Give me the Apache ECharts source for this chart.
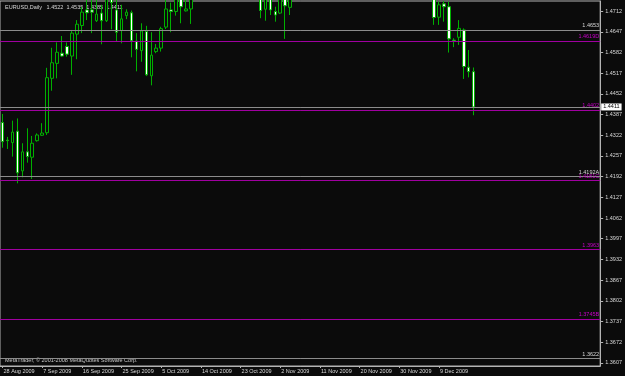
<!DOCTYPE html>
<html><head><meta charset="utf-8">
<script src="https://cdn.jsdelivr.net/npm/echarts@6/dist/echarts.min.js"></script>
<style>html,body{margin:0;padding:0;background:#0b0b0b}#c{width:625px;height:376px}</style>
</head><body><div id="c"></div>
<script>
const symbolName = 'EURUSD,Daily';
const dates = ['28 Aug 2009','30 Aug 2009','31 Aug 2009','1 Sep 2009','2 Sep 2009','3 Sep 2009','4 Sep 2009','6 Sep 2009',
'7 Sep 2009','8 Sep 2009','9 Sep 2009','10 Sep 2009','11 Sep 2009','13 Sep 2009','14 Sep 2009','15 Sep 2009',
'16 Sep 2009','17 Sep 2009','18 Sep 2009','20 Sep 2009','21 Sep 2009','22 Sep 2009','23 Sep 2009','24 Sep 2009',
'25 Sep 2009','27 Sep 2009','28 Sep 2009','29 Sep 2009','30 Sep 2009','1 Oct 2009','2 Oct 2009','4 Oct 2009',
'5 Oct 2009','6 Oct 2009','7 Oct 2009','8 Oct 2009','9 Oct 2009','11 Oct 2009','12 Oct 2009','13 Oct 2009',
'14 Oct 2009','15 Oct 2009','16 Oct 2009','18 Oct 2009','19 Oct 2009','20 Oct 2009','21 Oct 2009','22 Oct 2009',
'23 Oct 2009','25 Oct 2009','26 Oct 2009','27 Oct 2009','28 Oct 2009','29 Oct 2009','30 Oct 2009','1 Nov 2009',
'2 Nov 2009','3 Nov 2009','4 Nov 2009','5 Nov 2009','6 Nov 2009','8 Nov 2009','9 Nov 2009','10 Nov 2009',
'11 Nov 2009','12 Nov 2009','13 Nov 2009','15 Nov 2009','16 Nov 2009','17 Nov 2009','18 Nov 2009','19 Nov 2009',
'20 Nov 2009','22 Nov 2009','23 Nov 2009','24 Nov 2009','25 Nov 2009','26 Nov 2009','27 Nov 2009','29 Nov 2009',
'30 Nov 2009','1 Dec 2009','2 Dec 2009','3 Dec 2009','4 Dec 2009','6 Dec 2009','7 Dec 2009','8 Dec 2009',
'9 Dec 2009','10 Dec 2009','11 Dec 2009','13 Dec 2009','14 Dec 2009','15 Dec 2009','16 Dec 2009','17 Dec 2009'];

const opens = [1.4362,1.4307,1.4299,1.4335,1.4210,1.4270,1.4253,1.4305,1.4322,1.4330,1.4501,1.4548,1.4580,1.4601,1.4571,1.4640,
1.4667,1.4716,1.4716,1.4682,1.4706,1.4682,1.4760,1.4716,1.4651,1.4698,1.4707,1.4618,1.4588,1.4648,1.4509,1.4585,
1.4596,1.4662,1.4716,1.4711,1.4758,1.4713,1.4719,1.4780,1.4830,1.4910,1.4905,1.4870,1.4875,1.4935,1.4945,1.5010,
1.5020,1.5010,1.5005,1.4905,1.4790,1.4718,1.4765,1.4711,1.4706,1.4770,1.4724,1.4775,1.4860,1.4870,1.4875,1.4990,
1.4970,1.4990,1.4850,1.4895,1.4900,1.4980,1.4880,1.4965,1.4900,1.4870,1.4880,1.4965,1.4975,1.5125,1.5020,1.4980,
1.4985,1.5005,1.5090,1.5080,1.5050,1.4860,1.4870,1.4805,1.4693,1.4735,1.4726,1.4621,1.4630,1.4653,1.4536,1.4522];

const highs = [1.4389,1.4317,1.4368,1.4375,1.4297,1.4344,1.4320,1.4328,1.4360,1.4534,1.4597,1.4614,1.4634,1.4614,1.4653,1.4684,
1.4726,1.4763,1.4757,1.4747,1.4732,1.4780,1.4780,1.4747,1.4732,1.4718,1.4714,1.4643,1.4674,1.4666,1.4646,1.4609,
1.4663,1.4754,1.4739,1.4768,1.4770,1.4760,1.4800,1.4850,1.4930,1.4935,1.4920,1.4880,1.4945,1.4960,1.5025,1.5030,
1.5060,1.5020,1.5025,1.4925,1.4810,1.4790,1.4790,1.4726,1.4795,1.4785,1.4800,1.4880,1.4900,1.4885,1.5010,1.5010,
1.5010,1.4995,1.4930,1.4905,1.5000,1.4990,1.4990,1.4975,1.4930,1.4890,1.5000,1.4990,1.5145,1.5145,1.5035,1.4990,
1.5040,1.5105,1.5110,1.5125,1.5095,1.4875,1.4880,1.4830,1.4742,1.4744,1.4742,1.4627,1.4684,1.4658,1.4590,1.4535];

const lows = [1.4283,1.4279,1.4255,1.4171,1.4190,1.4236,1.4185,1.4302,1.4320,1.4323,1.4462,1.4501,1.4569,1.4569,1.4512,1.4561,
1.4643,1.4684,1.4643,1.4678,1.4608,1.4678,1.4655,1.4616,1.4611,1.4687,1.4567,1.4523,1.4553,1.4508,1.4479,1.4580,
1.4585,1.4656,1.4646,1.4698,1.4674,1.4711,1.4672,1.4765,1.4810,1.4855,1.4820,1.4860,1.4840,1.4890,1.4925,1.4930,
1.4995,1.5000,1.4890,1.4775,1.4690,1.4682,1.4700,1.4679,1.4703,1.4625,1.4700,1.4760,1.4790,1.4860,1.4870,1.4930,
1.4950,1.4830,1.4830,1.4885,1.4880,1.4860,1.4870,1.4865,1.4810,1.4860,1.4875,1.4930,1.4965,1.4950,1.4830,1.4970,
1.4950,1.4995,1.5040,1.5030,1.4845,1.4850,1.4790,1.4669,1.4669,1.4679,1.4582,1.4599,1.4606,1.4499,1.4504,1.4385];

const closes = [1.4302,1.4305,1.4332,1.4204,1.4270,1.4255,1.4297,1.4323,1.4329,1.4503,1.4550,1.4583,1.4571,1.4577,1.4643,1.4671,
1.4709,1.4707,1.4709,1.4703,1.4682,1.4760,1.4739,1.4646,1.4688,1.4709,1.4619,1.4592,1.4650,1.4512,1.4574,1.4596,
1.4657,1.4719,1.4711,1.4758,1.4726,1.4719,1.4780,1.4830,1.4910,1.4905,1.4865,1.4875,1.4935,1.4945,1.5010,1.5020,
1.5010,1.5005,1.4905,1.4790,1.4714,1.4765,1.4716,1.4700,1.4770,1.4729,1.4775,1.4860,1.4860,1.4875,1.4990,1.4970,
1.4990,1.4850,1.4890,1.4900,1.4980,1.4880,1.4965,1.4900,1.4860,1.4880,1.4965,1.4975,1.5125,1.5020,1.4975,1.4985,
1.5005,1.5090,1.5080,1.5050,1.4860,1.4870,1.4805,1.4692,1.4732,1.4726,1.4625,1.4618,1.4658,1.4538,1.4522,1.4411];

const yTicks = [1.3607,1.3672,1.3737,1.3802,1.3867,1.3932,1.3997,1.4062,1.4127,1.4192,1.4257,1.4322,1.4387,1.4452,1.4517,1.4582,1.4647,1.4712];

const grayLevels = [1.4653, 1.4192, 1.3622];
const grayLabels = ['1.4653', '1.4192A', '1.3622'];
const magentaLevels = [1.4619, 1.4402, 1.4181, 1.3963, 1.3745];
const magentaLabels = ['1.4619D', '1.4402', '1.4181C', '1.3963', '1.3745B'];
const copyrightText = 'MetaTrader, \u00A9 2001-2008 MetaQuotes Software Corp.';

const emptySlots = 25;
const labelEvery = 8;

// ---- build library structures ----
const categories = dates.concat(new Array(emptySlots).fill(''));
const ohlc = dates.map((d, i) => [opens[i], closes[i], lows[i], highs[i]]);
const last = dates.length - 1;
const bid = closes[last];
const header = symbolName + '   ' + [opens[last], highs[last], lows[last], closes[last]].map(v => v.toFixed(4)).join('  ');

const FONT = 'Liberation Sans';
const FS = 5.5;
const GREEN = '#00b000';
const GRAY_LINE = '#8c8c8c';
const FRAME = '#b4b4b4';
const MAG_LINE = '#a000a0';
const MAG_TEXT = '#c800c8';
const TEXT = '#d8d8d8';

const markData = [];
grayLevels.forEach((v, i) => markData.push({
  yAxis: v,
  lineStyle: { color: GRAY_LINE, width: 1, type: 'solid' },
  label: { show: true, position: 'insideEndTop', formatter: grayLabels[i], color: TEXT, fontSize: FS, fontFamily: FONT, distance: 1 }
}));
magentaLevels.forEach((v, i) => markData.push({
  yAxis: v,
  lineStyle: { color: MAG_LINE, width: 1, type: 'solid' },
  label: { show: true, position: 'insideEndTop', formatter: magentaLabels[i], color: MAG_TEXT, fontSize: FS, fontFamily: FONT, distance: 1 }
}));
markData.push({
  yAxis: bid,
  lineStyle: { color: GRAY_LINE, width: 1, type: 'solid' },
  label: { show: true, position: 'end', formatter: bid.toFixed(4), color: '#000', backgroundColor: '#ffffff',
           padding: [1, 2, 0, 2], fontSize: FS, fontFamily: FONT, distance: 1 }
});

const showIdx = (idx) => idx % labelEvery === 0 && categories[idx] !== '';

const chart = echarts.init(document.getElementById('c'), null, { renderer: 'canvas' });
chart.setOption({
  backgroundColor: '#0b0b0b',
  animation: false,
  grid: { left: 0, right: 24, top: 1, bottom: 10, show: true, borderColor: FRAME, borderWidth: 1, backgroundColor: 'transparent' },
  xAxis: {
    type: 'category', data: categories, boundaryGap: true,
    axisLine: { show: true, lineStyle: { color: FRAME } },
    axisTick: { show: true, alignWithLabel: true, interval: (idx) => showIdx(idx), length: 2, lineStyle: { color: FRAME } },
    axisLabel: { interval: (idx) => showIdx(idx), align: 'left', color: TEXT, fontSize: FS, fontFamily: FONT, margin: 2, padding: [0, 0, 0, 1] },
    splitLine: { show: false }
  },
  yAxis: {
    type: 'value', position: 'right', min: 1.3597, max: 1.4744,
    splitLine: { show: false },
    axisLine: { show: true, lineStyle: { color: FRAME } },
    axisTick: { show: true, inside: false, length: 3, customValues: yTicks, lineStyle: { color: FRAME } },
    axisLabel: { customValues: yTicks, formatter: (v) => Number(v).toFixed(4), color: TEXT, fontSize: FS, fontFamily: FONT, margin: 5 }
  },
  series: [{
    type: 'candlestick',
    data: ohlc,
    barWidth: 3,
    clip: true,
    itemStyle: { color: '#0b0b0b', color0: '#ffffff', borderColor: GREEN, borderColor0: GREEN, borderColorDoji: GREEN, borderWidth: 1 },
    markLine: { symbol: ['none', 'none'], silent: true, animation: false, precision: 5, data: markData }
  }],
  graphic: [
    { type: 'text', left: 5, top: 4, silent: true, style: { text: header, fill: TEXT, fontSize: FS, fontFamily: FONT } },
    { type: 'text', left: 5, top: 357, silent: true, style: { text: copyrightText, fill: '#c8c8c8', fontSize: FS, fontFamily: FONT } }
  ]
});
</script>
</body></html>
